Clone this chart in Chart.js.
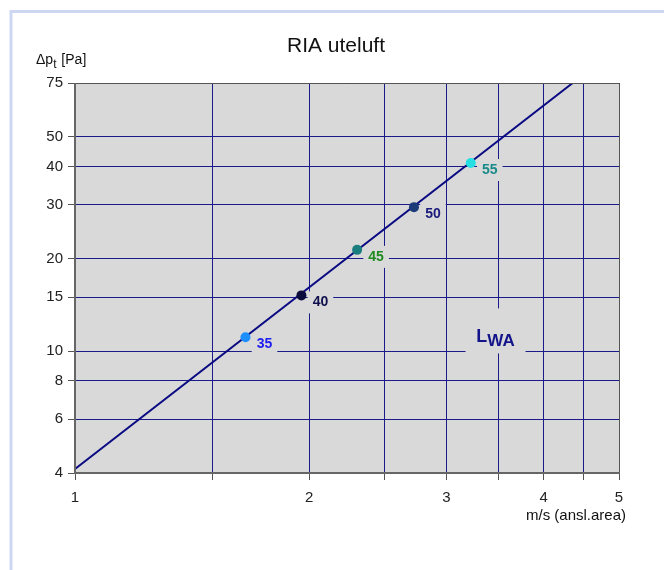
<!DOCTYPE html>
<html>
<head>
<meta charset="utf-8">
<script src="https://cdn.jsdelivr.net/npm/chart.js@4/dist/chart.umd.min.js"></script>
<style>
  html, body { margin: 0; padding: 0; background: #ffffff; }
  canvas { display: block; }
</style>
</head>
<body>
<canvas id="c" width="664" height="570"></canvas>
<script>
// ---- data ----
const chartTitle = 'RIA uteluft';
const xTicks = [1, 1.5, 2, 2.5, 3, 3.5, 4, 4.5, 5];
const xTickLabels = ['1', '', '2', '', '3', '', '4', '', '5'];
const yTicks = [4, 6, 8, 10, 15, 20, 30, 40, 50, 75];
const yTickLabels = ['4', '6', '8', '10', '15', '20', '30', '40', '50', '75'];
const lineX = [1, 4.36];
const lineY = [4.12, 75];
const pointX = [1.656, 1.954, 2.304, 2.726, 3.225];
const pointY = [11.1, 15.2, 21.4, 29.5, 41.1];
const pointLabels = ['35', '40', '45', '50', '55'];
const pointColors = ['#1e8fff', '#0b0b3c', '#1b7e7e', '#1b3a78', '#25dfe2'];
const labelColors = ['#1c1cf0', '#10104e', '#1f8a1f', '#1a1a7c', '#1b8a8a'];
const lwaPos = { x: 3.47, y: 11.0 };

const FONT = '"Liberation Sans", Arial, sans-serif';
const GRID = '#1a1a88';
const PLOT_BG = '#d9d9d9';

const decor = {
  id: 'decor',
  beforeDraw(chart) {
    const ctx = chart.ctx, a = chart.chartArea;
    ctx.save();
    // outer frame
    ctx.strokeStyle = '#cdd7f2';
    ctx.lineWidth = 3;
    ctx.beginPath();
    ctx.moveTo(11, 570);
    ctx.lineTo(11, 11.5);
    ctx.lineTo(664, 11.5);
    ctx.stroke();
    // plot background
    ctx.fillStyle = PLOT_BG;
    ctx.fillRect(a.left, a.top, a.right - a.left, a.bottom - a.top);
    // title
    ctx.fillStyle = '#111';
    ctx.font = '21px ' + FONT;
    ctx.textAlign = 'center';
    ctx.textBaseline = 'alphabetic';
    ctx.fillText(chartTitle, 336, 52);
    // y axis title
    ctx.textAlign = 'left';
    ctx.font = '14px ' + FONT;
    let x = 36;
    ctx.fillText('\u0394p', x, 64);
    x += ctx.measureText('\u0394p').width;
    ctx.font = '12px ' + FONT;
    ctx.fillText('t', x, 68);
    x += ctx.measureText('t').width + 1;
    ctx.font = '14px ' + FONT;
    ctx.fillText(' [Pa]', x, 64);
    // x axis title
    ctx.textAlign = 'right';
    ctx.font = '15px ' + FONT;
    ctx.fillText('m/s (ansl.area)', 626, 520);
    ctx.restore();
  },
  beforeDatasetsDraw(chart) {
    const ctx = chart.ctx;
    const xs = chart.scales.x, ys = chart.scales.y;
    ctx.save();
    ctx.textAlign = 'center';
    ctx.textBaseline = 'middle';
    ctx.font = 'bold 14px ' + FONT;
    for (let i = 0; i < pointLabels.length; i++) {
      const px = xs.getPixelForValue(pointX[i]) + 19;
      const py = ys.getPixelForValue(pointY[i]) + 7;
      const w = ctx.measureText(pointLabels[i]).width + 10;
      ctx.fillStyle = PLOT_BG;
      ctx.fillRect(px - w / 2, py - 11, w, 22);
      ctx.fillStyle = labelColors[i];
      ctx.fillText(pointLabels[i], px, py);
    }
    // L_WA
    const lx = xs.getPixelForValue(lwaPos.x);
    const ly = ys.getPixelForValue(lwaPos.y);
    ctx.fillStyle = PLOT_BG;
    ctx.fillRect(lx - 30, ly - 30, 60, 45);
    ctx.fillStyle = '#14148a';
    ctx.textAlign = 'left';
    ctx.textBaseline = 'alphabetic';
    ctx.font = 'bold 18px ' + FONT;
    const lw = ctx.measureText('L').width;
    ctx.font = 'bold 17px ' + FONT;
    const ww = ctx.measureText('WA').width;
    const sx = lx - (lw + ww) / 2;
    ctx.font = 'bold 18px ' + FONT;
    ctx.fillText('L', sx, ly + 4);
    ctx.font = 'bold 17px ' + FONT;
    ctx.fillText('WA', sx + lw, ly + 8);
    ctx.restore();
  },
  afterDatasetsDraw(chart) {
    const ctx = chart.ctx, a = chart.chartArea;
    ctx.save();
    ctx.strokeStyle = '#555';
    ctx.lineWidth = 1;
    ctx.beginPath();
    ctx.moveTo(a.left, a.top + 0.5);
    ctx.lineTo(a.right + 0.5, a.top + 0.5);
    ctx.lineTo(a.right + 0.5, a.bottom);
    ctx.stroke();
    ctx.strokeStyle = '#666';
    ctx.lineWidth = 2;
    ctx.beginPath();
    ctx.moveTo(a.left, a.top);
    ctx.lineTo(a.left, a.bottom);
    ctx.lineTo(a.right + 1, a.bottom);
    ctx.stroke();
    ctx.restore();
  }
};

new Chart(document.getElementById('c'), {
  type: 'scatter',
  data: {
    datasets: [
      {
        data: lineX.map((v, i) => ({ x: v, y: lineY[i] })),
        showLine: true,
        borderColor: '#0a0a82',
        borderWidth: 2,
        pointRadius: 0,
        order: 2
      },
      {
        data: pointX.map((v, i) => ({ x: v, y: pointY[i] })),
        showLine: false,
        pointRadius: 5,
        pointBackgroundColor: pointColors,
        pointBorderColor: pointColors,
        pointBorderWidth: 0,
        order: 1
      }
    ]
  },
  options: {
    responsive: false,
    animation: false,
    devicePixelRatio: 1,
    layout: { padding: { left: 0, top: 83, right: 45, bottom: 0 } },
    plugins: { legend: { display: false }, tooltip: { enabled: false }, title: { display: false } },
    scales: {
      x: {
        type: 'logarithmic',
        min: 1, max: 5,
        afterBuildTicks(scale) { scale.ticks = xTicks.map(v => ({ value: v })); },
        afterFit(scale) { scale.height = 97; },
        grid: { color: GRID, lineWidth: 1, tickColor: '#555', tickLength: 7, drawTicks: true },
        border: { display: false },
        ticks: {
          autoSkip: false, maxRotation: 0, padding: 9,
          color: '#222', font: { family: FONT, size: 15 },
          callback(value, index) { return xTickLabels[index]; }
        }
      },
      y: {
        type: 'logarithmic',
        min: 4, max: 75,
        afterBuildTicks(scale) { scale.ticks = yTicks.map(v => ({ value: v })); },
        afterFit(scale) { scale.width = 75; },
        grid: { color: GRID, lineWidth: 1, tickColor: '#555', tickLength: 7, drawTicks: true },
        border: { display: false },
        ticks: {
          autoSkip: false, padding: 5,
          color: '#222', font: { family: FONT, size: 15 },
          callback(value, index) { return yTickLabels[index]; }
        }
      }
    }
  },
  plugins: [decor]
});
</script>
</body>
</html>
